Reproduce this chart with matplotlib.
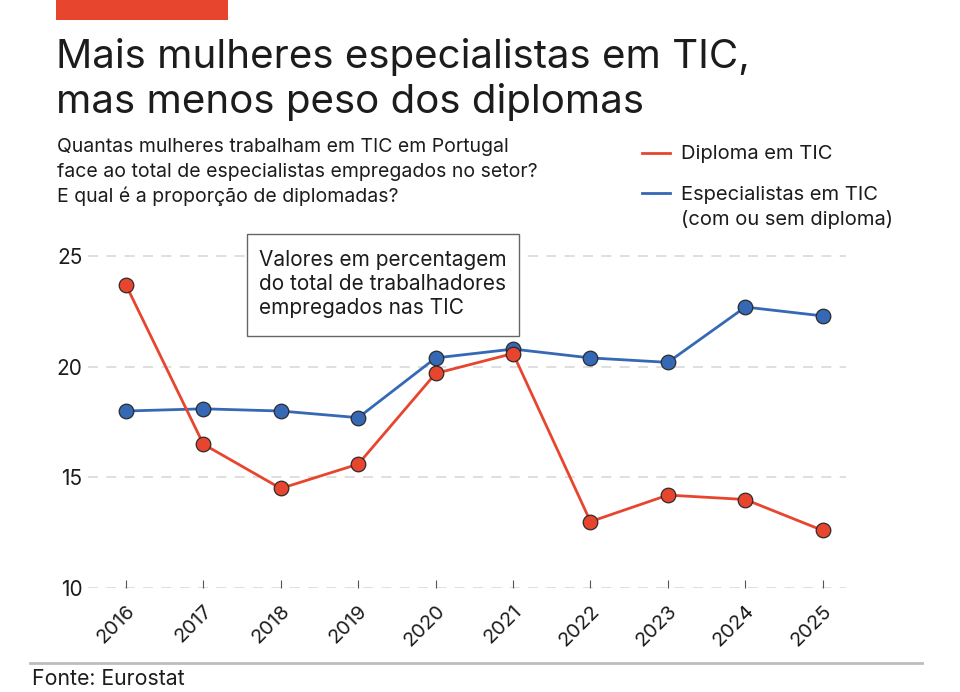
"""
Mulheres especialistas em TIC em Portugal vs proporção de diplomadas
"""

import matplotlib.pyplot as plt
import matplotlib.patches as patches
import matplotlib.lines as mlines

plt.rcParams['font.family'] = ['Inter', 'DejaVu Sans']

# ── Data ───────────────────────────────────────────────────────────────────────
YEARS = [2016, 2017, 2018, 2019, 2020, 2021, 2022, 2023, 2024, 2025]
DIPLOMA = [23.7, 16.5, 14.5, 15.6, 19.7, 20.6, 13.0, 14.2, 14.0, 12.6]
ESPECIALISTAS = [18.0, 18.1, 18.0, 17.7, 20.4, 20.8, 20.4, 20.2, 22.7, 22.3]
YTICKS = [10, 15, 20, 25]

RED = '#E8452F'
BLUE = '#3568B5'
TXT = '#1c1c1c'

W, H = 960, 692
fig = plt.figure(figsize=(W / 100, H / 100), dpi=100)
fig.patch.set_facecolor('white')


def fy(px):
    return 1 - px / H


# ── Header ─────────────────────────────────────────────────────────────────────
fig.add_artist(patches.Rectangle((56 / W, fy(20)), 172 / W, 20 / H,
                                 transform=fig.transFigure, color=RED, lw=0))
fig.text(56 / W, fy(68), 'Mais mulheres especialistas em TIC,',
         fontsize=29, color=TXT, va='baseline', ha='left')
fig.text(56 / W, fy(113), 'mas menos peso dos diplomas',
         fontsize=29, color=TXT, va='baseline', ha='left')

SUB = ['Quantas mulheres trabalham em TIC em Portugal',
       'face ao total de especialistas empregados no setor?',
       'E qual é a proporção de diplomadas?']
for i, line in enumerate(SUB):
    fig.text(57 / W, fy(152 + 25 * i), line, fontsize=14, color=TXT,
             va='baseline', ha='left')

# legend (manual)
fig.add_artist(mlines.Line2D([642 / W, 670 / W], [fy(153), fy(153)],
                             transform=fig.transFigure, color=RED, lw=2))
fig.text(681 / W, fy(159), 'Diploma em TIC', fontsize=14.5, color=TXT,
         va='baseline', ha='left')
fig.add_artist(mlines.Line2D([642 / W, 670 / W], [fy(193), fy(193)],
                             transform=fig.transFigure, color=BLUE, lw=2))
fig.text(681 / W, fy(200), 'Especialistas em TIC', fontsize=14.5, color=TXT,
         va='baseline', ha='left')
fig.text(681 / W, fy(225), '(com ou sem diploma)', fontsize=14.5, color=TXT,
         va='baseline', ha='left')

# ── Chart ──────────────────────────────────────────────────────────────────────
ax = fig.add_axes([88 / W, fy(588), (846 - 88) / W, (588 - 244) / H])
ax.set_xlim(2015.51, 2025.3)
ax.set_ylim(10, 25.55)
ax.set_yticks(YTICKS)
ax.set_yticklabels([str(t) for t in YTICKS])
ax.set_xticks(YEARS)
ax.set_xticklabels([str(y) for y in YEARS], rotation=45, ha='right',
                   rotation_mode='anchor')

for t in YTICKS:
    ax.axhline(t, color='#d9d9d9', lw=1.2, ls=(0, (6, 5)), zorder=1)

ax.plot(YEARS, ESPECIALISTAS, color=BLUE, lw=2, marker='o', markersize=10.5,
        markerfacecolor=BLUE, markeredgecolor='#2b2b2b', markeredgewidth=0.9, zorder=3)
ax.plot(YEARS, DIPLOMA, color=RED, lw=2, marker='o', markersize=10.5,
        markerfacecolor=RED, markeredgecolor='#2b2b2b', markeredgewidth=0.9, zorder=4)

for s in ax.spines.values():
    s.set_visible(False)
ax.tick_params(axis='y', length=0, labelsize=15, labelcolor=TXT, pad=4)
ax.tick_params(axis='x', direction='in', length=5.5, width=0.8, color='#555555',
               labelsize=14.5, labelcolor=TXT, pad=10)

# annotation box
fig.add_artist(patches.Rectangle((247 / W, fy(336)), 272 / W, 102 / H,
                                 transform=fig.transFigure, facecolor='white',
                                 edgecolor='#666666', lw=1, zorder=5))
NOTE = ['Valores em percentagem', 'do total de trabalhadores', 'empregados nas TIC']
for i, line in enumerate(NOTE):
    t = fig.text(259 / W, fy(266 + 24 * i), line, fontsize=15, color=TXT,
                 va='baseline', ha='left')
    t.set_zorder(6)

# ── Footer ─────────────────────────────────────────────────────────────────────
fig.add_artist(mlines.Line2D([30 / W, 922 / W], [fy(663), fy(663)],
                             transform=fig.transFigure, color='#bdbdbd', lw=2))
fig.text(32 / W, fy(685), 'Fonte: Eurostat', fontsize=15.3, color=TXT,
         va='baseline', ha='left')

plt.savefig('out.png', dpi=100)
